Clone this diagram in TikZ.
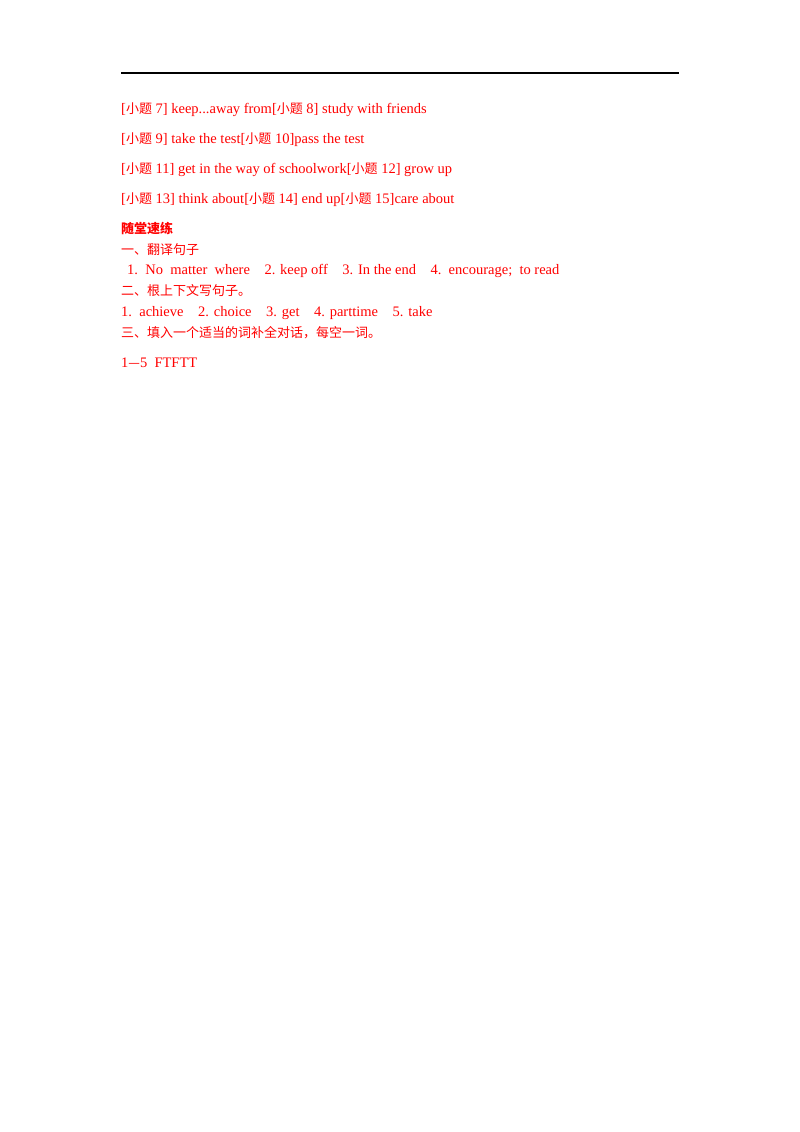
\documentclass[tikz,border=0pt]{standalone}
\usepackage{fontspec}
\setmainfont{Liberation Serif}
\newfontfamily\cjk{Noto Sans CJK SC}
\newcommand{\zh}[1]{{\cjk\fontsize{13}{13}\selectfont #1}}
\tikzset{ans/.style={anchor=base west,inner sep=0pt,text=red,font=\fontsize{14.5}{14.5}\selectfont}}
\tikzset{head/.style={ans,font=\fontsize{14.5}{14.5}\selectfont\bfseries}}
\begin{document}
\begin{tikzpicture}[x=1pt,y=-1pt]
  \useasboundingbox (0,0) rectangle (800,1132);
  \draw[line width=1.2pt] (121,73) -- (679,73);
  % answers 7--15
  \node[ans] (r1) at (121,113) {[\zh{小题} 7] keep...away from[\zh{小题} 8] study with friends};
  \node[ans] (r2) at (121,143) {[\zh{小题} 9] take the test[\zh{小题} 10]pass the test};
  \node[ans] (r3) at (121,173) {[\zh{小题} 11] get in the way of schoolwork[\zh{小题} 12] grow up};
  \node[ans] (r4) at (121,203) {[\zh{小题} 13] think about[\zh{小题} 14] end up[\zh{小题} 15]care about};
  % practice
  \node[head] (h) at (121,233) {\zh{\bfseries 随堂速练}};
  \node[ans] (s1) at (121,254) {\zh{一、翻译句子}};
  \node[ans] (a1) at (127,274) {1.\ \ No\ \ matter\ \ where\quad 2. keep off\quad 3. In the end\quad 4.\ \ encourage;\ \ to read};
  \node[ans] (s2) at (121,295) {\zh{二、根上下文写句子。}};
  \node[ans] (a2) at (121,316) {1.\ \ achieve\quad 2. choice\quad 3. get\quad 4. parttime\quad 5. take};
  \node[ans] (s3) at (121,337) {\zh{三、填入一个适当的词补全对话，每空一词。}};
  \node[ans] (a3) at (121,367) {1\zh{—}5\ \ FTFTT};
\end{tikzpicture}
\end{document}
